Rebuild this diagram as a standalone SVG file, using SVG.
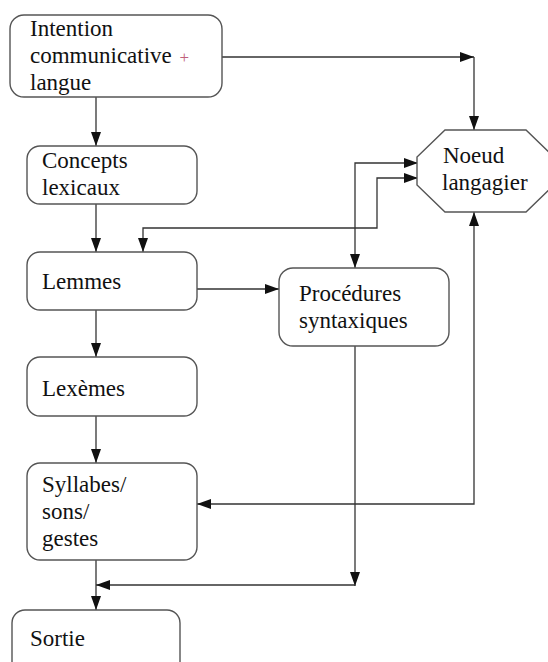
<svg xmlns="http://www.w3.org/2000/svg" width="548" height="662" viewBox="0 0 548 662">
<style>
.box{fill:#fff;stroke:#555;stroke-width:1.4}
.lbl{font-size:23px;fill:#111}
.plus{fill:#c0607a;font-size:17px}
.cn{fill:none;stroke:#333;stroke-width:1.3}
</style>
<defs>
<marker id="ah" viewBox="0 0 14 10" refX="14" refY="5" markerWidth="14" markerHeight="10" markerUnits="userSpaceOnUse" orient="auto-start-reverse">
<path d="M0,0 L14,5 L0,10 z" fill="#111"/>
</marker>
</defs>
<rect width="548" height="662" fill="#fff"/>
<g id="connectors">
<path class="cn" d="M222,57 H474" marker-end="url(#ah)"/>
<path class="cn" d="M474,57 V130" marker-end="url(#ah)"/>
<path class="cn" d="M96,97 V146" marker-end="url(#ah)"/>
<path class="cn" d="M96,204 V252" marker-end="url(#ah)"/>
<path class="cn" d="M143,252 V228 H377 V178 H418" marker-start="url(#ah)" marker-end="url(#ah)"/>
<path class="cn" d="M355,268 V163 H418" marker-start="url(#ah)" marker-end="url(#ah)"/>
<path class="cn" d="M197,289 H279" marker-end="url(#ah)"/>
<path class="cn" d="M96,310 V357" marker-end="url(#ah)"/>
<path class="cn" d="M96,416 V463" marker-end="url(#ah)"/>
<path class="cn" d="M474,212 V504 H197" marker-start="url(#ah)" marker-end="url(#ah)"/>
<path class="cn" d="M355,346 V586" marker-end="url(#ah)"/>
<path class="cn" d="M355,585 H96" marker-end="url(#ah)"/>
<path class="cn" d="M96,560 V610" marker-end="url(#ah)"/>
</g>
<g font-family="Liberation Serif, Tinos, DejaVu Serif, serif">
<g id="intention">
<rect class="box" x="10" y="15" width="212" height="82" rx="14"/>
<text class="lbl" x="30" y="36">Intention</text>
<text class="lbl" x="30" y="63">communicative <tspan class="plus" dx="2">+</tspan></text>
<text class="lbl" x="30" y="90">langue</text>
</g>
<g id="concepts">
<rect class="box" x="27" y="146" width="170" height="58" rx="13"/>
<text class="lbl" x="42" y="168">Concepts</text>
<text class="lbl" x="42" y="195">lexicaux</text>
</g>
<g id="lemmes">
<rect class="box" x="27" y="252" width="170" height="58" rx="13"/>
<text class="lbl" x="42" y="289">Lemmes</text>
</g>
<g id="lexemes">
<rect class="box" x="27" y="357" width="170" height="59" rx="13"/>
<text class="lbl" x="42" y="396">Lexèmes</text>
</g>
<g id="syllabes">
<rect class="box" x="27" y="463" width="170" height="97" rx="13"/>
<text class="lbl" x="42" y="492">Syllabes/</text>
<text class="lbl" x="42" y="519">sons/</text>
<text class="lbl" x="42" y="546">gestes</text>
</g>
<g id="sortie">
<rect class="box" x="12" y="610" width="168" height="70" rx="13"/>
<text class="lbl" x="30" y="646">Sortie</text>
</g>
<g id="procedures">
<rect class="box" x="279" y="268" width="170" height="78" rx="14"/>
<text class="lbl" x="299" y="301">Procédures</text>
<text class="lbl" x="299" y="328">syntaxiques</text>
</g>
<g id="noeud">
<polygon class="box" points="445,130 526,130 554,157 554,185 526,212 445,212 417,185 417,157"/>
<text class="lbl" x="443" y="163">Noeud</text>
<text class="lbl" x="442" y="190">langagier</text>
</g>
</g>
</svg>
